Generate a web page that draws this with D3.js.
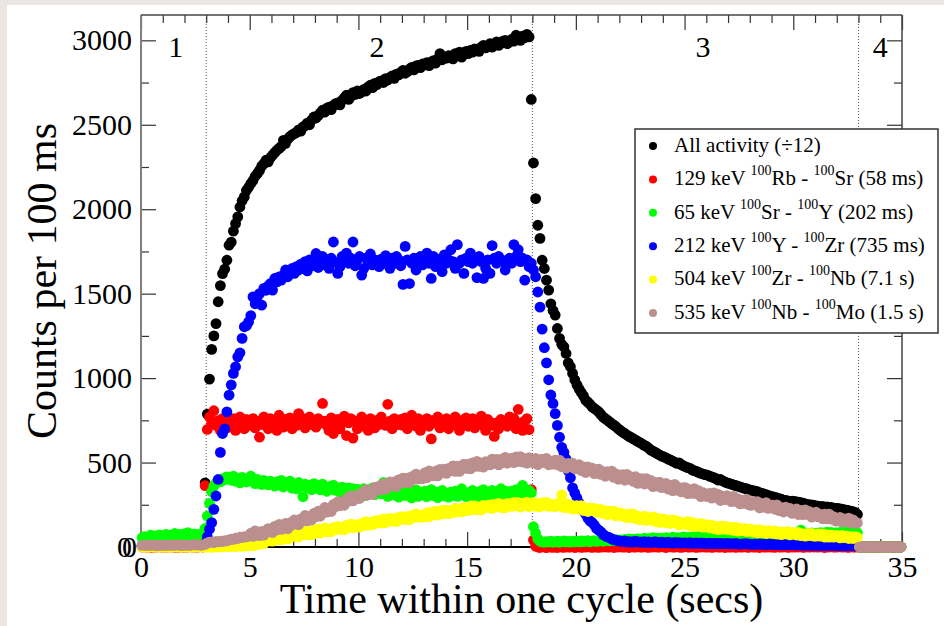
<!DOCTYPE html>
<html>
<head>
<meta charset="utf-8">
<script src="https://cdn.jsdelivr.net/npm/d3@7/dist/d3.min.js"></script>
<style>
  html, body { margin: 0; padding: 0; background: #fff; }
  svg { display: block; }
  svg text { font-family: 'Liberation Serif', 'DejaVu Serif', serif; fill: #000; }
</style>
</head>
<body>
<svg id="chart" width="944" height="626"></svg>
<script>
'use strict';
// 100 ms bins, one value per bin, first bin centred on 0.05 s
var binWidth = 0.1;

// All activity (/12)
var allActivity = [
    8, 6, 9, 7, 5, 8, 10, 6, 7, 9,
    7, 8, 6, 9, 10, 7, 8, 6, 9, 8,
    9, 7, 8, 10, 6, 8, 9, 7, 10, 380,
    787, 994, 1170, 1250, 1323, 1452, 1548, 1619, 1645, 1698,
    1787, 1805, 1870, 1915, 1955, 2013, 2050, 2073, 2112, 2130,
    2152, 2170, 2195, 2211, 2230, 2255, 2270, 2290, 2280, 2305,
    2320, 2335, 2349, 2360, 2372, 2408, 2390, 2415, 2430, 2440,
    2448, 2455, 2470, 2462, 2487, 2495, 2510, 2500, 2528, 2546,
    2540, 2555, 2570, 2586, 2575, 2598, 2605, 2590, 2615, 2625,
    2630, 2618, 2645, 2660, 2675, 2650, 2668, 2690, 2680, 2700,
    2685, 2695, 2710, 2700, 2725, 2734, 2720, 2745, 2738, 2755,
    2760, 2750, 2773, 2765, 2780, 2790, 2775, 2800, 2795, 2810,
    2822, 2805, 2815, 2830, 2840, 2825, 2848, 2852, 2838, 2860,
    2855, 2868, 2850, 2872, 2880, 2865, 2890, 2921, 2885, 2900,
    2895, 2910, 2905, 2890, 2921, 2915, 2930, 2900, 2925, 2935,
    2921, 2940, 2930, 2950, 2945, 2935, 2960, 2970, 2955, 2965,
    2980, 2960, 2975, 2990, 2970, 2985, 2995, 3000, 2980, 2990,
    3005, 2995, 3030, 3010, 3000, 3025, 3015, 3035, 3020, 2650,
    2274, 2063, 1905, 1827, 1698, 1649, 1580, 1521, 1440, 1400,
    1373, 1294, 1235, 1200, 1185, 1146, 1090, 1067, 1028, 990,
    960, 935, 915, 895, 870, 858, 845, 830, 820, 811,
    800, 785, 770, 760, 751, 740, 730, 722, 712, 700,
    690, 680, 672, 663, 655, 648, 640, 633, 625, 618,
    610, 602, 595, 585, 574, 568, 560, 552, 545, 538,
    534, 528, 520, 515, 508, 502, 495, 498, 488, 480,
    475, 470, 466, 456, 452, 448, 442, 436, 432, 428,
    426, 420, 415, 410, 405, 396, 400, 392, 386, 380,
    377, 372, 367, 364, 360, 356, 352, 347, 345, 340,
    337, 334, 330, 327, 322, 318, 314, 310, 305, 300,
    298, 294, 290, 286, 283, 278, 276, 273, 270, 272,
    270, 267, 265, 262, 260, 255, 252, 249, 250, 246,
    244, 242, 238, 240, 236, 238, 232, 234, 230, 228,
    229, 226, 224, 220, 218, 215, 212, 209, 205, 193,
    0, 0, 0, 0, 0, 0, 0, 0, 0, 0,
    0, 0, 0, 0, 0, 0, 0, 0, 0, 0
];

// 129 keV 100Rb - 100Sr
var rbSr = [
    0, 2, -1, 1, 0, -2, 1, 0, 2, -1,
    1, 0, -1, 2, 0, 1, -2, 0, 1, 0,
    -1, 0, 2, 0, 1, -1, 0, 2, 0, 363,
    696, 770, 735, 807, 720, 748, 690, 760, 725, 705,
    742, 715, 760, 690, 730, 770, 745, 700, 755, 720,
    735, 760, 705, 745, 650, 725, 770, 740, 700, 760,
    725, 745, 690, 780, 735, 710, 755, 730, 765, 700,
    745, 720, 790, 735, 760, 705, 740, 770, 725, 750,
    710, 760, 735, 850, 745, 720, 690, 765, 672, 725,
    755, 700, 740, 775, 660, 735, 760, 645, 745, 700,
    730, 770, 715, 745, 690, 760, 735, 705, 750, 725,
    770, 735, 720, 845, 745, 700, 760, 740, 725, 755,
    720, 765, 700, 740, 780, 735, 715, 760, 690, 745,
    730, 760, 715, 640, 750, 735, 770, 705, 740, 725,
    760, 700, 745, 735, 770, 720, 690, 750, 730, 765,
    715, 740, 760, 705, 745, 730, 775, 720, 690, 755,
    740, 720, 655, 735, 700, 755, 730, 745, 715, 770,
    725, 760, 700, 815, 735, 690, 745, 760, 695, 340,
    41, 5, 0, -3, 2, 0, -4, 3, 0, -2,
    1, -3, 2, 0, -2, 3, -1, 0, 2, -3,
    0, 2, -2, 1, -1, 3, 0, -2, 1, 0,
    -2, 1, 0, 3, -1, 0, 2, -3, 1, 0,
    2, -1, 0, 1, -3, 2, 0, -1, 3, 0,
    -1, 2, 0, -2, 1, 0, 3, -1, 0, 2,
    0, -3, 2, 1, 0, -1, 2, 0, -2, 1,
    3, 0, -1, 2, 0, -2, 1, 0, 2, -1,
    0, 1, -2, 0, 3, -1, 0, 2, -3, 1,
    -1, 0, 2, -2, 1, 0, -1, 3, 0, -2,
    2, 0, -1, 1, -3, 2, 0, -1, 1, 0,
    0, -2, 3, 0, -1, 1, 2, -2, 0, 1,
    -1, 1, 0, 2, -2, 0, 1, -1, 3, 0,
    1, -1, 2, 0, -3, 1, 0, 2, -1, 0,
    0, 2, -1, 1, 0, -2, 3, 0, -1, 1,
    0, 0, 0, 0, 0, 0, 0, 0, 0, 0,
    0, 0, 0, 0, 0, 0, 0, 0, 0, 0
];

// 65 keV 100Sr - 100Y
var srY = [
    55, 62, 48, 60, 70, 52, 65, 58, 72, 60,
    66, 75, 58, 70, 62, 80, 68, 74, 60, 78,
    70, 85, 64, 72, 78, 62, 74, 68, 70, 110,
    183, 258, 327, 360, 378, 392, 386, 405, 398, 415,
    410, 395, 420, 390, 405, 380, 412, 398, 385, 404,
    420, 392, 375, 400, 388, 370, 395, 382, 368, 390,
    378, 360, 385, 372, 395, 355, 380, 366, 390, 348,
    370, 345, 382, 360, 298, 372, 352, 365, 340, 375,
    350, 362, 338, 372, 345, 330, 358, 342, 366, 335,
    348, 325, 355, 338, 312, 350, 330, 345, 320, 342,
    330, 318, 345, 305, 338, 322, 350, 310, 335, 325,
    315, 382, 330, 300, 322, 340, 308, 328, 295, 318,
    325, 305, 332, 315, 290, 320, 338, 300, 322, 310,
    330, 298, 318, 340, 305, 325, 292, 315, 335, 302,
    318, 295, 325, 308, 330, 300, 320, 345, 310, 298,
    322, 305, 335, 312, 290, 328, 315, 340, 302, 325,
    315, 335, 300, 328, 320, 345, 310, 332, 318, 305,
    330, 312, 340, 320, 305, 365, 325, 315, 335, 320,
    120, 82, 48, 35, 30, 28, 32, 30, 35, 28,
    30, 34, 28, 32, 36, 30, 33, 29, 35, 31,
    33, 30, 36, 32, 34, 38, 31, 35, 37, 33,
    36, 40, 34, 38, 42, 37, 40, 36, 44, 39,
    42, 38, 45, 40, 48, 43, 46, 41, 50, 44,
    47, 52, 45, 50, 48, 55, 46, 53, 49, 51,
    50, 55, 48, 53, 58, 51, 56, 49, 54, 60,
    52, 57, 55, 60, 53, 58, 62, 56, 59, 54,
    58, 62, 56, 60, 65, 57, 63, 59, 61, 66,
    60, 64, 58, 68, 62, 66, 61, 70, 63, 65,
    66, 62, 70, 64, 68, 72, 65, 69, 74, 67,
    70, 66, 73, 68, 75, 71, 69, 76, 72, 78,
    74, 80, 72, 100, 77, 82, 75, 79, 84, 76,
    80, 78, 85, 82, 76, 88, 81, 86, 79, 84,
    82, 87, 80, 90, 85, 83, 88, 81, 86, 84,
    0, 0, 0, 0, 0, 0, 0, 0, 0, 0,
    0, 0, 0, 0, 0, 0, 0, 0, 0, 0
];

// 212 keV 100Y - 100Zr
var yZr = [
    5, 8, 3, 6, 10, 4, 7, 2, 9, 5,
    6, 3, 8, 5, 2, 7, 4, 9, 6, 3,
    7, 5, 10, 4, 8, 6, 3, 9, 12, 20,
    61, 105, 144, 223, 302, 400, 560, 672, 700, 800,
    899, 960, 1028, 1067, 1126, 1150, 1235, 1304, 1310, 1333,
    1370, 1481, 1440, 1480, 1500, 1432, 1531, 1520, 1545, 1560,
    1521, 1590, 1570, 1600, 1580, 1610, 1640, 1600, 1630, 1649,
    1620, 1660, 1640, 1675, 1650, 1690, 1635, 1700, 1665, 1680,
    1738, 1655, 1690, 1720, 1670, 1700, 1650, 1710, 1806, 1685,
    1620, 1660, 1720, 1690, 1740, 1680, 1710, 1806, 1665, 1700,
    1720, 1610, 1650, 1710, 1680, 1735, 1670, 1700, 1690, 1660,
    1705, 1680, 1725, 1690, 1650, 1710, 1680, 1720, 1700, 1665,
    1555, 1780, 1700, 1560, 1680, 1710, 1640, 1695, 1720, 1670,
    1700, 1740, 1680, 1590, 1720, 1660, 1705, 1690, 1630, 1730,
    1680, 1700, 1760, 1690, 1650, 1790, 1680, 1700, 1620, 1710,
    1690, 1740, 1680, 1700, 1595, 1720, 1690, 1590, 1650, 1700,
    1620, 1785, 1710, 1680, 1720, 1700, 1690, 1640, 1700, 1710,
    1680, 1790, 1720, 1760, 1690, 1710, 1580, 1700, 1660, 1680,
    1640, 1600, 1510, 1420, 1290, 1180, 1090, 990, 900, 850,
    790, 720, 650, 590, 560, 520, 450, 410, 350, 320,
    290, 260, 235, 215, 195, 170, 155, 145, 130, 110,
    100, 90, 75, 65, 60, 55, 48, 42, 40, 38,
    35, 33, 36, 30, 32, 28, 31, 34, 29, 30,
    28, 31, 27, 30, 26, 29, 32, 27, 25, 28,
    26, 24, 28, 25, 22, 27, 24, 26, 23, 25,
    24, 22, 26, 21, 23, 25, 20, 24, 22, 21,
    20, 23, 19, 22, 21, 18, 22, 20, 19, 21,
    18, 20, 17, 21, 19, 16, 19, 18, 20, 17,
    17, 15, 18, 16, 19, 15, 17, 14, 16, 18,
    15, 13, 16, 14, 12, 15, 13, 16, 14, 12,
    13, 11, 14, 12, 10, 13, 11, 12, 9, 12,
    10, 12, 9, 11, 8, 10, 12, 9, 11, 8,
    9, 7, 10, 8, 6, 9, 7, 8, 6, 8,
    0, 0, 0, 0, 0, 0, 0, 0, 0, 0,
    0, 0, 0, 0, 0, 0, 0, 0, 0, 0
];

// 504 keV 100Zr - 100Nb
var zrNb = [
    0, 1, -1, 0, 2, 0, -1, 1, 0, 0,
    1, 0, 0, -1, 1, 2, 0, -1, 0, 1,
    0, -1, 1, 0, 0, 2, -1, 0, 1, 0,
    0, 2, -2, 3, 1, 4, 0, 5, 2, 6,
    3, 7, 5, 2, 8, 6, 4, 9, 7, 10,
    18, 7, 29, 18, 15, 37, 20, 39, 48, 36,
    35, 59, 44, 66, 42, 61, 69, 47, 71, 62,
    80, 62, 59, 83, 74, 94, 72, 89, 73, 100,
    84, 106, 82, 103, 113, 91, 105, 91, 116, 104,
    122, 104, 118, 102, 128, 116, 136, 114, 132, 120,
    118, 140, 128, 150, 128, 144, 132, 154, 144, 158,
    142, 166, 144, 160, 170, 154, 168, 150, 176, 164,
    180, 162, 180, 162, 186, 176, 196, 176, 188, 176,
    180, 204, 180, 205, 193, 213, 189, 209, 216, 198,
    218, 198, 216, 203, 229, 211, 227, 207, 234, 220,
    216, 239, 223, 244, 220, 237, 220, 246, 233, 247,
    248, 229, 254, 237, 258, 235, 250, 233, 258, 245,
    240, 264, 244, 262, 236, 258, 246, 266, 238, 256,
    262, 240, 258, 238, 263, 247, 264, 240, 254, 242,
    238, 256, 243, 308, 234, 256, 233, 251, 224, 242,
    245, 225, 245, 216, 232, 210, 232, 216, 229, 205,
    207, 223, 199, 215, 191, 212, 196, 212, 184, 200,
    202, 182, 192, 174, 196, 176, 194, 168, 182, 160,
    164, 182, 157, 173, 161, 178, 152, 170, 145, 165,
    165, 144, 158, 139, 161, 144, 154, 131, 147, 136,
    134, 150, 126, 145, 121, 137, 125, 139, 116, 132,
    130, 113, 129, 108, 120, 103, 124, 106, 123, 105,
    102, 117, 98, 117, 94, 109, 97, 110, 91, 104,
    105, 88, 101, 84, 103, 86, 95, 80, 97, 84,
    81, 96, 77, 90, 73, 90, 78, 91, 72, 83,
    86, 71, 86, 67, 78, 64, 81, 68, 81, 64,
    64, 77, 64, 77, 58, 71, 58, 71, 58, 67,
    67, 54, 68, 55, 64, 50, 61, 50, 62, 57,
    0, 0, 0, 0, 0, 0, 0, 0, 0, 0,
    0, 0, 0, 0, 0, 0, 0, 0, 0, 0
];

// 535 keV 100Nb - 100Mo
var nbMo = [
    10, 12, 8, 11, 9, 13, 10, 7, 12, 9,
    11, 8, 13, 10, 12, 9, 14, 11, 8, 12,
    10, 13, 9, 12, 15, 11, 14, 10, 13, 15,
    25, 28, 30, 26, 33, 30, 35, 32, 38, 36,
    42, 46, 45, 52, 50, 58, 55, 62, 60, 66,
    82, 63, 96, 75, 67, 93, 70, 96, 109, 89,
    86, 122, 102, 134, 104, 124, 140, 108, 142, 131,
    160, 137, 132, 167, 156, 187, 155, 181, 160, 199,
    180, 212, 182, 216, 234, 206, 230, 210, 252, 238,
    268, 244, 267, 247, 286, 272, 303, 273, 302, 290,
    287, 322, 306, 339, 309, 334, 312, 353, 337, 360,
    338, 374, 342, 369, 385, 361, 385, 357, 398, 382,
    408, 381, 407, 382, 417, 403, 432, 403, 422, 404,
    439, 410, 450, 425, 422, 449, 421, 460, 443, 461,
    436, 465, 451, 480, 448, 479, 448, 476, 491, 465,
    490, 462, 498, 477, 507, 477, 497, 473, 506, 494,
    486, 520, 497, 519, 486, 518, 499, 531, 496, 520,
    525, 499, 533, 507, 535, 503, 521, 497, 529, 511,
    498, 525, 488, 515, 520, 499, 524, 487, 508, 491,
    514, 487, 514, 476, 495, 466, 495, 474, 496, 463,
    464, 487, 453, 474, 441, 475, 452, 467, 434, 455,
    461, 430, 446, 419, 446, 426, 449, 412, 433, 401,
    408, 429, 395, 430, 402, 415, 388, 416, 377, 403,
    404, 373, 404, 377, 394, 357, 382, 361, 384, 351,
    356, 376, 343, 365, 334, 370, 337, 351, 326, 352,
    351, 316, 340, 317, 346, 316, 333, 298, 322, 303,
    298, 318, 289, 321, 294, 312, 275, 301, 280, 304,
    295, 269, 300, 270, 287, 255, 276, 258, 283, 251,
    246, 270, 249, 269, 232, 256, 236, 263, 229, 244,
    248, 224, 249, 215, 233, 207, 236, 214, 228, 199,
    205, 225, 192, 216, 192, 220, 193, 209, 177, 200,
    206, 178, 193, 167, 194, 166, 195, 165, 180, 154,
    155, 175, 147, 167, 151, 171, 141, 161, 141, 142,
    0, 0, 0, 0, 0, 0, 0, 0, 0, 0,
    0, 0, 0, 0, 0, 0, 0, 0, 0, 0
];

var seriesLabels = [
    'All activity (\u00f712)',
    '129 keV ^{100}Rb - ^{100}Sr (58 ms)',
    '65 keV ^{100}Sr - ^{100}Y (202 ms)',
    '212 keV ^{100}Y - ^{100}Zr (735 ms)',
    '504 keV ^{100}Zr - ^{100}Nb (7.1 s)',
    '535 keV ^{100}Nb - ^{100}Mo (1.5 s)'
];
var seriesValues = [allActivity, rbSr, srY, yZr, zrNb, nbMo];
var seriesColors = ['#000000', '#ff0000', '#00ff00', '#0000ff', '#ffff00', '#bc8f8f'];

// cycle boundaries (beam on at 3 s, off at 18 s, end at 33 s)
var cycleEdges = [3, 18, 33];
var regionNames = ['1', '2', '3', '4'];
var regionNameX = [1.6, 10.85, 25.85, 34.0];

var xTicks = [0, 5, 10, 15, 20, 25, 30, 35];
var yTicks = [0, 500, 1000, 1500, 2000, 2500, 3000];
var yMinorTicks = [250, 750, 1250, 1750, 2250, 2750];

var serif = "'Liberation Serif', 'DejaVu Serif', serif";
var svg = d3.select('#chart');
var plot = {left: 141, right: 902, top: 15, bottom: 547};

var x = d3.scaleLinear().domain([0, 35]).range([plot.left, plot.right]);
var y = d3.scaleLinear().domain([0, 3150]).range([plot.bottom, plot.top]);

// page background with the grey margin
svg.append('rect').attr('width', 944).attr('height', 626).attr('fill', '#e9e6e3');
svg.append('rect').attr('x', 7).attr('y', 5).attr('width', 937).attr('height', 621).attr('fill', '#ffffff');

// dotted cycle boundaries
svg.append('g').selectAll('line')
    .data(cycleEdges)
    .enter().append('line')
    .attr('x1', function(d) { return x(d); })
    .attr('x2', function(d) { return x(d); })
    .attr('y1', plot.top)
    .attr('y2', plot.bottom)
    .attr('stroke', '#555')
    .attr('stroke-width', 1)
    .attr('stroke-dasharray', '1,2')
;

// axes, ticks pointing in
var xMinor = d3.range(0, 36).filter(function(d) { return d % 5 !== 0; });
function styleAxis(g) {
    g.attr('font-family', serif).attr('font-size', 30);
    g.select('.domain').remove();
    g.selectAll('.tick line').attr('stroke', '#333').attr('stroke-width', 1.2);
    g.selectAll('.tick text')
        .attr('font-family', serif)
        .style('font-family', serif)
        .style('font-size', '30px');
}
svg.append('g')
    .attr('transform', 'translate(0,' + plot.bottom + ')')
    .call(d3.axisBottom(x).tickValues(xTicks).tickSize(-15).tickPadding(9).tickFormat(d3.format('d')))
    .call(styleAxis);
svg.append('g')
    .attr('transform', 'translate(0,' + plot.bottom + ')')
    .call(d3.axisBottom(x).tickValues(xMinor).tickSize(-8).tickFormat(''))
    .call(styleAxis);
svg.append('g')
    .attr('transform', 'translate(0,' + plot.top + ')')
    .call(d3.axisTop(x).tickValues(xTicks).tickSize(-15).tickFormat(''))
    .call(styleAxis);
svg.append('g')
    .attr('transform', 'translate(0,' + plot.top + ')')
    .call(d3.axisTop(x).tickValues(xMinor).tickSize(-8).tickFormat(''))
    .call(styleAxis);
svg.append('g')
    .attr('transform', 'translate(' + plot.left + ',0)')
    .call(d3.axisLeft(y).tickValues(yTicks).tickSize(-15).tickPadding(9).tickFormat(d3.format('d')))
    .call(styleAxis);
svg.append('g')
    .attr('transform', 'translate(' + plot.left + ',0)')
    .call(d3.axisLeft(y).tickValues(yMinorTicks).tickSize(-8).tickFormat(''))
    .call(styleAxis);
svg.append('g')
    .attr('transform', 'translate(' + plot.right + ',0)')
    .call(d3.axisRight(y).tickValues(yTicks).tickSize(-15).tickFormat(''))
    .call(styleAxis);
svg.append('g')
    .attr('transform', 'translate(' + plot.right + ',0)')
    .call(d3.axisRight(y).tickValues(yMinorTicks).tickSize(-8).tickFormat(''))
    .call(styleAxis);

// the doubled zero next to the y axis origin
svg.append('text')
    .attr('x', plot.left - 4)
    .attr('y', y(0))
    .attr('dy', '0.32em')
    .attr('text-anchor', 'end')
    .style('font-size', '30px')
    .text('0');

// frame
svg.append('line').attr('x1', plot.left).attr('x2', plot.left).attr('y1', plot.top).attr('y2', plot.bottom)
    .attr('stroke', '#808080').attr('stroke-width', 2);
svg.append('line').attr('x1', plot.left).attr('x2', plot.right).attr('y1', plot.top).attr('y2', plot.top)
    .attr('stroke', '#444').attr('stroke-width', 1.5);
svg.append('line').attr('x1', plot.right).attr('x2', plot.right).attr('y1', plot.top).attr('y2', plot.bottom)
    .attr('stroke', '#444').attr('stroke-width', 1.5);
svg.append('line').attr('x1', plot.left).attr('x2', plot.right).attr('y1', plot.bottom).attr('y2', plot.bottom)
    .attr('stroke', '#000').attr('stroke-width', 1.8);

// markers
var marks = svg.append('g');
seriesValues.forEach(function(vals, s) {
    marks.append('g')
        .selectAll('circle')
        .data(vals)
        .enter().append('circle')
        .attr('cx', function(d, i) { return x((i + 0.5) * binWidth); })
        .attr('cy', function(d) { return y(d); })
        .attr('r', 5.4)
        .attr('fill', seriesColors[s])
    ;
});

// region numbers
svg.append('g').selectAll('text')
    .data(regionNames)
    .enter().append('text')
    .attr('x', function(d, i) { return x(regionNameX[i]); })
    .attr('y', 57)
    .attr('text-anchor', 'middle')
    .style('font-size', '30px')
    .text(function(d) { return d; });

// axis titles
svg.append('text')
    .attr('x', (plot.left + plot.right) / 2)
    .attr('y', 613)
    .attr('text-anchor', 'middle')
    .style('font-size', '42px')
    .text('Time within one cycle (secs)');
svg.append('text')
    .attr('transform', 'translate(56,' + ((plot.top + plot.bottom) / 2) + ') rotate(-90)')
    .attr('text-anchor', 'middle')
    .style('font-size', '42px')
    .text('Counts per 100 ms');

// legend
var legend = svg.append('g');
legend.append('rect')
    .attr('x', 635).attr('y', 129)
    .attr('width', 303).attr('height', 204)
    .attr('fill', '#fff')
    .attr('stroke', '#333')
    .attr('stroke-width', 1.5);
seriesLabels.forEach(function(label, i) {
    var base = 151.7 + i * 33.4;
    legend.append('circle')
        .attr('cx', 653).attr('cy', base - 5.7)
        .attr('r', 4).attr('fill', seriesColors[i]);
    var t = legend.append('text')
        .attr('x', 674).attr('y', base)
        .style('font-size', '21px');
    // split on ^{..} superscripts
    var parts = label.split(/\^\{(\d+)\}/);
    var raised = false;
    parts.forEach(function(p, k) {
        if (p === '') { return; }
        var sup = k % 2 === 1;
        var ts = t.append('tspan').text(p);
        if (sup) {
            ts.style('font-size', '14px').attr('dy', raised ? 0 : -10);
            raised = true;
        } else if (raised) {
            ts.attr('dy', 10);
            raised = false;
        }
    });
});
</script>
</body>
</html>
